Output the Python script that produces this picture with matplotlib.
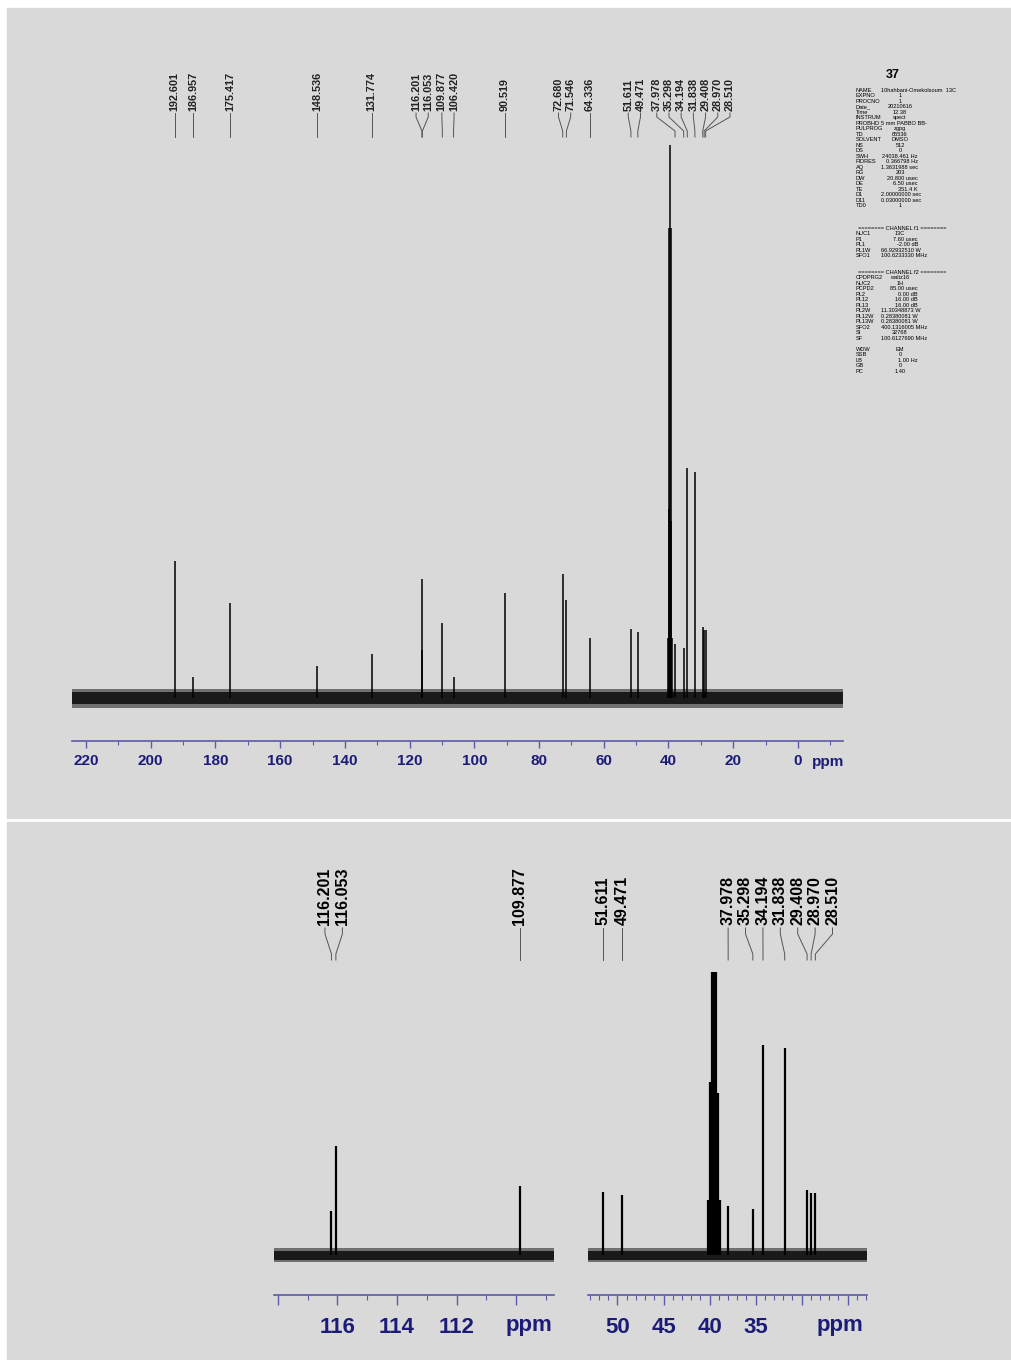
import matplotlib
matplotlib.use("Agg")
import matplotlib.pyplot as plt
from matplotlib.lines import Line2D
from matplotlib.patches import Rectangle
from matplotlib.ticker import MultipleLocator

W, H = 1012, 1360

peak_ppm = [192.601, 186.957, 175.417, 148.536, 131.774, 116.201, 116.053,
            109.877, 106.420, 90.519, 72.680, 71.546, 64.336, 51.611, 49.471,
            37.978, 35.298, 34.194, 31.838, 29.408, 28.970, 28.510]
peak_int = [137, 21, 95, 32, 44, 48, 119, 75, 21, 105, 124, 98, 60, 69, 66,
            54, 50, 230, 226, 71, 68, 68]

# septuplet du DMSO-d6 (non annoté)
solvent_ppm = [40.14, 39.93, 39.72, 39.52, 39.31, 39.10, 38.89]
solvent_int = [60, 189, 470, 553, 470, 177, 60]

top_ticks = [220, 200, 180, 160, 140, 120, 100, 80, 60, 40, 20, 0]
left_ticks = [118, 116, 114, 112, 110]
left_labels = ["", "116", "114", "112", ""]
right_ticks = [50, 45, 40, 35, 30, 25]
right_labels = ["50", "45", "40", "35", "", ""]

params_acq = [
    ("NAME", "10hahbani-Omekolsoum  13C"), ("EXPNO", "1"), ("PROCNO", "1"),
    ("Date_", "20210616"), ("Time", "12.38"), ("INSTRUM", "spect"),
    ("PROBHD", "5 mm PABBO BB-"), ("PULPROG", "zgpg"), ("TD", "65536"),
    ("SOLVENT", "DMSO"), ("NS", "512"), ("DS", "0"),
    ("SWH", "24038.461 Hz"), ("FIDRES", "0.366798 Hz"), ("AQ", "1.3631988 sec"),
    ("RG", "203"), ("DW", "20.800 usec"), ("DE", "6.50 usec"),
    ("TE", "351.4 K"), ("D1", "2.00000000 sec"), ("D11", "0.03000000 sec"),
    ("TD0", "1"),
]
params_f1 = [("NUC1", "13C"), ("P1", "7.60 usec"), ("PL1", "-2.00 dB"),
             ("PL1W", "66.92932510 W"), ("SFO1", "100.6233330 MHz")]
params_f2 = [("CPDPRG2", "waltz16"), ("NUC2", "1H"), ("PCPD2", "85.00 usec"),
             ("PL2", "0.00 dB"), ("PL12", "16.00 dB"), ("PL13", "16.00 dB"),
             ("PL2W", "11.30348873 W"), ("PL12W", "0.28380081 W"),
             ("PL13W", "0.28380081 W"), ("SFO2", "400.1316005 MHz"),
             ("SI", "32768"), ("SF", "100.6127690 MHz")]
params_proc = [("WDW", "EM"), ("SSB", "0"), ("LB", "1.00 Hz"), ("GB", "0"),
               ("PC", "1.40")]

FONT = ["Liberation Sans", "DejaVu Sans"]
AXC = "#5a5aa8"
LABC = "#1c1c78"
GRAY = "#d9d9d9"

fig = plt.figure(figsize=(W / 100, H / 100), dpi=100)
fig.patch.set_facecolor("white")


def fx(x):
    return x / W


def fy(y):
    return 1 - y / H


def axes_px(x0, y0, x1, y1):
    return fig.add_axes([fx(x0), fy(y1), (x1 - x0) / W, (y1 - y0) / H])


# fonds gris des deux panneaux
fig.add_artist(Rectangle((fx(7), fy(818)), (1011 - 7) / W, 810 / H,
                         transform=fig.transFigure, color=GRAY, zorder=0))
fig.add_artist(Rectangle((fx(7), fy(1360)), (1011 - 7) / W, 538 / H,
                         transform=fig.transFigure, color=GRAY, zorder=0))


def setup(ax, xlim, ylim, ticks, labels, minor, fs, pad, tlen):
    ax.set_xlim(xlim)
    ax.set_ylim(ylim)
    ax.patch.set_visible(False)
    for s in ["top", "left", "right"]:
        ax.spines[s].set_visible(False)
    ax.spines["bottom"].set_color(AXC)
    ax.spines["bottom"].set_linewidth(1.2)
    ax.set_yticks([])
    ax.set_xticks(ticks, labels=labels)
    ax.xaxis.set_minor_locator(MultipleLocator(minor))
    ax.tick_params(axis="x", which="major", direction="out", length=tlen,
                   width=1, color=AXC, labelcolor=LABC, pad=pad)
    ax.tick_params(axis="x", which="minor", direction="out", length=tlen * 0.55,
                   width=0.8, color=AXC)
    for t in ax.get_xticklabels():
        t.set_fontfamily(FONT)
        t.set_fontweight("bold")
        t.set_fontsize(fs)


def spectrum(ax, noise, lw):
    # bande de bruit de la ligne de base : frange grise + coeur sombre
    x0, x1 = ax.get_xlim()
    ax.fill_between([x0, x1], -noise * 1.25, noise * 1.1, color="#707070",
                    lw=0, zorder=1)
    ax.fill_between([x0, x1], -noise * 0.8, noise * 0.7, color="#1a1a1a",
                    lw=0, zorder=1)
    ax.vlines(peak_ppm, 0, peak_int, color="black", lw=lw, zorder=2)
    ax.vlines(solvent_ppm, 0, solvent_int, color="black", lw=lw, zorder=2)


def spread(xs, gap):
    # regroupe les étiquettes trop proches et les centre sur leurs pics
    groups = [[x] for x in xs]
    merged = True
    while merged:
        merged = False
        for i in range(len(groups) - 1):
            a, b = groups[i], groups[i + 1]
            ca = sum(a) / len(a)
            cb = sum(b) / len(b)
            right_a = ca + (len(a) - 1) / 2 * gap
            left_b = cb - (len(b) - 1) / 2 * gap
            if left_b - right_a < gap:
                groups[i] = a + b
                del groups[i + 1]
                merged = True
                break
    out = []
    for g in groups:
        c = sum(g) / len(g)
        for k in range(len(g)):
            out.append(c + (k - (len(g) - 1) / 2) * gap)
    return out


def peak_labels(ax, gap, text_bottom, legs, fs, color):
    x0, x1 = ax.get_xlim()
    sel = [p for p in peak_ppm if x1 <= p <= x0]
    sel = sorted(sel, reverse=True)
    px = [ax.transData.transform((p, 0))[0] for p in sel]
    lx = spread(px, gap)
    t0, t1, t2, t3 = legs
    for p, xp, xl in zip(sel, px, lx):
        fig.add_artist(Line2D([fx(xl), fx(xl), fx(xp), fx(xp)],
                              [fy(t0), fy(t1), fy(t2), fy(t3)],
                              transform=fig.transFigure, color="#555555", lw=0.7))
        fig.text(fx(xl), fy(text_bottom), "%.3f" % p, rotation=90, ha="center",
                 va="bottom", fontsize=fs, fontfamily=FONT, fontweight="bold",
                 color=color)


# spectre complet
ax1 = axes_px(72, 60, 843, 741)
setup(ax1, (224.33, -13.93), (-43, 638), top_ticks, [str(t) for t in top_ticks],
      10, 11, 4.5, 5)
spectrum(ax1, 8, 1.1)
peak_labels(ax1, 12.2, 111, (113, 117, 131, 137), 7.8, "#222222")
fig.text(fx(828), fy(762), "ppm", ha="center", va="center", fontsize=11,
         fontfamily=FONT, fontweight="bold", color=LABC)

# agrandissements
scale = 0.915
ylim_b = (-40 / scale, 283 / scale)
ax2 = axes_px(274, 972, 554, 1295)
setup(ax2, (118.13, 108.73), ylim_b, left_ticks, left_labels, 1, 16, 9, 7)
spectrum(ax2, 6 / scale, 1.6)
peak_labels(ax2, 17.4, 925, (928, 934, 954, 960), 11.5, "black")

ax3 = axes_px(588, 972, 867, 1295)
setup(ax3, (53.2, 22.9), ylim_b, right_ticks, right_labels, 1, 16, 9, 7)
spectrum(ax3, 6 / scale, 1.6)
peak_labels(ax3, 17.4, 925, (928, 934, 954, 960), 11.5, "black")

for xp in (529, 840):
    fig.text(fx(xp), fy(1326), "ppm", ha="center", va="center", fontsize=16,
             fontfamily=FONT, fontweight="bold", color=LABC)

# bloc des paramètres d'acquisition
fig.text(fx(893), fy(75), "37", ha="center", va="center", fontsize=9,
         fontweight="bold", family=FONT)
step = 5.52
PFS = 4.1


def param_line(i, key, val):
    y = fy(90 + i * step)
    fig.text(fx(856), y, key, fontsize=PFS, va="center", family=FONT)
    if key == "NAME" or len(val) >= 13:
        fig.text(fx(881), y, val, fontsize=PFS, va="center", family=FONT)
    elif " " in val:
        fig.text(fx(918), y, val, fontsize=PFS, va="center", ha="right",
                 family=FONT)
    else:
        fig.text(fx(900), y, val, fontsize=PFS, va="center", ha="center",
                 family=FONT)


for i, (k, v) in enumerate(params_acq):
    param_line(i, k, v)
fig.text(fx(902), fy(90 + 25 * step), "======== CHANNEL f1 ========", fontsize=PFS,
         va="center", ha="center", family=FONT)
for i, (k, v) in enumerate(params_f1):
    param_line(26 + i, k, v)
fig.text(fx(902), fy(90 + 33 * step), "======== CHANNEL f2 ========", fontsize=PFS,
         va="center", ha="center", family=FONT)
for i, (k, v) in enumerate(params_f2):
    param_line(34 + i, k, v)
for i, (k, v) in enumerate(params_proc):
    param_line(47 + i, k, v)

fig.savefig("out.png", dpi=100, facecolor="white")
